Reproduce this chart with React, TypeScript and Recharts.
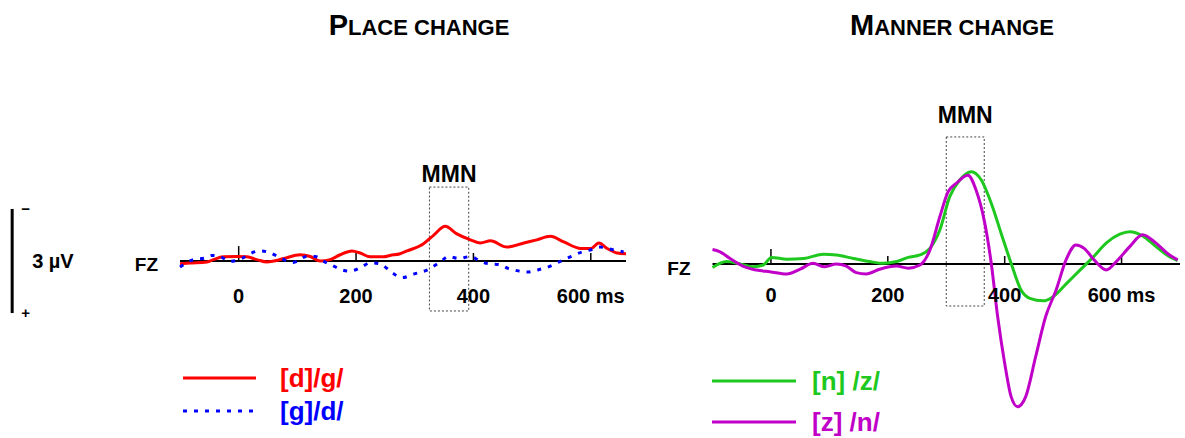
import {
  Legend,
  Line,
  LineChart,
  ReferenceArea,
  ReferenceDot,
  ReferenceLine,
  XAxis,
  YAxis,
} from 'recharts';

const FONT = '"Liberation Sans", Arial, Helvetica, sans-serif';

// ERP traces at FZ: time in ms, amplitude in µV (negative plotted upward)
const placeDgMs = [-100, -83, -54, -43, -26, -3, 14, 31, 48, 60, 77, 105, 122, 139, 156, 173, 193, 207, 224, 247, 258, 275, 287, 315, 332, 352, 371, 395, 412, 429, 457, 486, 508, 531, 554, 583, 600, 614, 628, 645, 660];
const placeDgUv = [0.08, 0.06, 0.03, -0.04, -0.12, -0.13, -0.12, -0.04, 0.03, 0, -0.07, -0.18, -0.13, 0, -0.04, -0.18, -0.29, -0.23, -0.12, -0.12, -0.16, -0.21, -0.29, -0.5, -0.74, -1.0, -0.79, -0.61, -0.52, -0.58, -0.4, -0.52, -0.61, -0.71, -0.55, -0.36, -0.36, -0.52, -0.36, -0.23, -0.21];

const placeGdMs = [-100, -77, -57, -46, -32, -15, 5, 19, 36, 53, 73, 93, 116, 130, 145, 159, 173, 190, 210, 224, 241, 260, 278, 298, 326, 343, 358, 375, 395, 412, 426, 443, 460, 472, 492, 511, 531, 548, 565, 585, 602, 616, 636, 656];
const placeGdUv = [0.17, -0.04, -0.09, -0.16, -0.13, 0.01, -0.07, -0.21, -0.29, -0.24, -0.07, 0.04, -0.13, -0.13, 0.01, 0.12, 0.24, 0.29, 0.17, 0.05, 0.08, 0.32, 0.48, 0.38, 0.22, 0.03, -0.13, -0.07, -0.13, 0.01, 0.08, 0.1, 0.22, 0.27, 0.32, 0.25, 0.15, 0.01, -0.12, -0.26, -0.33, -0.4, -0.33, -0.26];

const mannerNzMs = [-100, -76, -53, -30, -13, 1, 27, 56, 90, 112, 141, 169, 192, 215, 235, 255, 272, 289, 306, 323, 343, 360, 377, 394, 411, 428, 443, 466, 483, 506, 528, 551, 574, 597, 614, 636, 659, 682, 696];
const mannerNzUv = [0.1, -0.07, 0, 0.08, 0.03, -0.19, -0.14, -0.16, -0.28, -0.26, -0.16, -0.07, -0.02, -0.07, -0.19, -0.26, -0.45, -0.98, -1.94, -2.42, -2.66, -2.42, -1.75, -0.88, -0.02, 0.75, 0.99, 1.06, 0.94, 0.56, 0.19, -0.19, -0.61, -0.86, -0.93, -0.81, -0.5, -0.21, -0.1];

const mannerZnMs = [-100, -88, -70, -48, -19, -2, 27, 50, 72, 92, 112, 129, 146, 163, 186, 215, 235, 255, 272, 289, 303, 317, 337, 351, 366, 377, 388, 400, 411, 422, 436, 453, 470, 488, 505, 522, 536, 553, 574, 591, 614, 636, 659, 682, 696];
const mannerZnUv = [-0.42, -0.36, -0.16, 0.06, 0.19, 0.22, 0.29, 0.15, -0.02, 0.08, 0, 0.06, 0.25, 0.29, 0.15, 0.06, 0.12, 0.03, -0.4, -1.36, -2.08, -2.32, -2.56, -2.13, -1.17, -0.02, 1.52, 2.86, 3.82, 4.11, 3.82, 2.67, 1.52, 0.75, -0.12, -0.55, -0.45, -0.12, 0.17, -0.07, -0.5, -0.84, -0.6, -0.26, -0.12];

const tickMs = [0, 200, 400, 600];
const tickText = ['0', '200', '400', '600 ms'];
const tickLenUv = [0.43, 0.23, 0.23, 0.23];

const placeMmnMs = [325, 392];
const placeMmnUv = [-2.13, 1.44];
const mannerMmnMs = [300, 365];
const mannerMmnUv = [-3.66, 1.21];

// 3 µV calibration bar, drawn left of the place panel
const calibrationMs = -386;
const calibrationUv = [-1.5, 1.5];

const toRows = (ms: number[], uv: number[]) => ms.map((t, i) => ({ t, v: uv[i] }));

type Series = { name: string; color: string; dash?: string; data: { t: number; v: number }[] };

const placeSeries: Series[] = [
  { name: '[d]/g/', color: '#ff0000', data: toRows(placeDgMs, placeDgUv) },
  { name: '[g]/d/', color: '#0000ff', dash: '4 7', data: toRows(placeGdMs, placeGdUv) },
];

const mannerSeries: Series[] = [
  { name: '[n] /z/', color: '#1ec81e', data: toRows(mannerNzMs, mannerNzUv) },
  { name: '[z] /n/', color: '#c000c8', data: toRows(mannerZnMs, mannerZnUv) },
];

function legendContent(lineLen: number, gap: number, rowH: number) {
  return (props: any) => (
    <div style={{ fontFamily: FONT }}>
      {(props.payload ?? []).map((entry: any) => (
        <div key={entry.value} style={{ display: 'flex', alignItems: 'center', height: rowH }}>
          <svg width={lineLen} height={6} style={{ display: 'block' }}>
            <line
              x1={0}
              y1={3}
              x2={lineLen}
              y2={3}
              stroke={entry.color}
              strokeWidth={3}
              strokeDasharray={entry.payload?.strokeDasharray}
            />
          </svg>
          <span style={{ marginLeft: gap, color: entry.color, fontSize: 26, fontWeight: 700, lineHeight: 1 }}>
            {entry.value}
          </span>
        </div>
      ))}
    </div>
  );
}

function Title({ lead, rest, center }: { lead: string; rest: string; center: number }) {
  return (
    <div
      style={{
        position: 'absolute',
        left: center - 150,
        top: 11,
        width: 300,
        textAlign: 'center',
        fontWeight: 700,
        fontSize: 22,
        lineHeight: '28px',
        whiteSpace: 'nowrap',
      }}
    >
      <span style={{ fontSize: 29 }}>{lead}</span>
      <span style={{ fontSize: 22 }}>{rest}</span>
    </div>
  );
}

type PanelProps = {
  left: number;
  top: number;
  width: number;
  height: number;
  margin: { top: number; right: number; bottom: number; left: number };
  yAxisWidth: number;
  xDomain: [number, number];
  yDomain: [number, number];
  series: Series[];
  mmnMs: number[];
  mmnUv: number[];
  mmnOffset: number;
  tickLabelUv: number;
  fzDy: number;
  legend: { left: number; top: number; lineLen: number; gap: number; rowH: number };
  calibration?: boolean;
};

function ErpPanel(p: PanelProps) {
  return (
    <div style={{ position: 'absolute', left: p.left, top: p.top }}>
      <LineChart width={p.width} height={p.height} margin={p.margin}>
        <XAxis dataKey="t" type="number" domain={p.xDomain} hide />
        <YAxis
          type="number"
          domain={p.yDomain}
          reversed
          width={p.yAxisWidth}
          ticks={[0]}
          tickFormatter={() => 'FZ'}
          axisLine={false}
          tickLine={false}
          tickSize={0}
          tickMargin={22}
          tick={{ fill: '#000', fontSize: 19, fontWeight: 700, dy: p.fzDy }}
        />
        <ReferenceArea
          x1={p.mmnMs[0]}
          x2={p.mmnMs[1]}
          y1={p.mmnUv[0]}
          y2={p.mmnUv[1]}
          fill="none"
          fillOpacity={0}
          stroke="#444"
          strokeWidth={1}
          strokeDasharray="2 2"
          label={{ value: 'MMN', position: 'top', offset: p.mmnOffset, fontSize: 23, fontWeight: 700, fill: '#000' }}
        />
        <ReferenceLine y={0} stroke="#000" strokeWidth={2} />
        {tickMs.map((t, i) => (
          <ReferenceLine
            key={'tick' + t}
            segment={[
              { x: t, y: 0 },
              { x: t, y: -tickLenUv[i] },
            ]}
            stroke="#000"
            strokeWidth={1.5}
          />
        ))}
        {tickMs.map((t, i) => (
          <ReferenceDot
            key={'label' + t}
            x={t}
            y={p.tickLabelUv}
            r={0}
            fill="none"
            stroke="none"
            label={{ value: tickText[i], position: 'center', fill: '#000', fontSize: 20, fontWeight: 700 }}
          />
        ))}
        {p.calibration && (
          <ReferenceLine
            segment={[
              { x: calibrationMs, y: calibrationUv[0] },
              { x: calibrationMs, y: calibrationUv[1] },
            ]}
            ifOverflow="visible"
            stroke="#000"
            strokeWidth={3}
            label={{ value: '3 µV', position: 'right', offset: 20, fill: '#000', fontSize: 20, fontWeight: 700 }}
          />
        )}
        {p.calibration && (
          <ReferenceDot
            x={calibrationMs}
            y={calibrationUv[0]}
            r={0}
            fill="none"
            stroke="none"
            ifOverflow="visible"
            label={{ value: '−', position: 'right', offset: 9, fill: '#000', fontSize: 15, fontWeight: 700 }}
          />
        )}
        {p.calibration && (
          <ReferenceDot
            x={calibrationMs}
            y={calibrationUv[1]}
            r={0}
            fill="none"
            stroke="none"
            ifOverflow="visible"
            label={{ value: '+', position: 'right', offset: 9, fill: '#000', fontSize: 15, fontWeight: 700 }}
          />
        )}
        {p.series.map((s) => (
          <Line
            key={s.name}
            data={s.data}
            dataKey="v"
            name={s.name}
            type="monotone"
            stroke={s.color}
            strokeWidth={3}
            strokeDasharray={s.dash}
            dot={false}
            activeDot={false}
            isAnimationActive={false}
          />
        ))}
        <Legend
          layout="vertical"
          align="center"
          verticalAlign="middle"
          wrapperStyle={{ left: p.legend.left, top: p.legend.top, width: 'auto' }}
          content={legendContent(p.legend.lineLen, p.legend.gap, p.legend.rowH)}
        />
      </LineChart>
    </div>
  );
}

export default function App() {
  return (
    <div
      style={{
        position: 'absolute',
        left: 0,
        top: 0,
        width: 1185,
        height: 438,
        background: '#fff',
        fontFamily: FONT,
        overflow: 'hidden',
      }}
    >
      <Title lead="P" rest="LACE CHANGE" center={419} />
      <Title lead="M" rest="ANNER CHANGE" center={952} />
      <ErpPanel
        left={0}
        top={140}
        width={660}
        height={298}
        margin={{ top: 16.9, right: 34, bottom: 107.6, left: 100 }}
        yAxisWidth={80}
        xDomain={[-100, 660]}
        yDomain={[-3, 2]}
        series={placeSeries}
        mmnMs={placeMmnMs}
        mmnUv={placeMmnUv}
        mmnOffset={5}
        tickLabelUv={1.0}
        fzDy={3}
        legend={{ left: 183, top: 221.5, lineLen: 73, gap: 24, rowH: 33 }}
        calibration
      />
      <ErpPanel
        left={630}
        top={90}
        width={555}
        height={348}
        margin={{ top: 17.8, right: 5, bottom: 17.8, left: 0 }}
        yAxisWidth={82.5}
        xDomain={[-100, 700]}
        yDomain={[-4.5, 4.5]}
        series={mannerSeries}
        mmnMs={mannerMmnMs}
        mmnUv={mannerMmnUv}
        mmnOffset={14}
        tickLabelUv={0.9}
        fzDy={4}
        legend={{ left: 82, top: 270, lineLen: 84, gap: 16, rowH: 41 }}
      />
    </div>
  );
}
